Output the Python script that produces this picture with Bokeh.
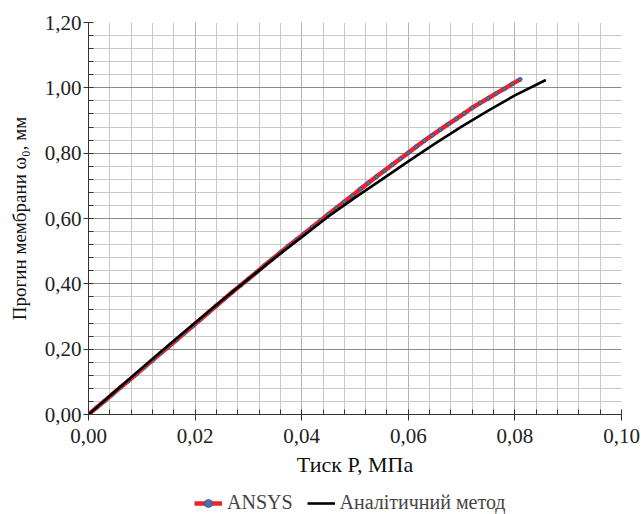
from bokeh.plotting import figure
from bokeh.layouts import column
from bokeh.models import FixedTicker, CustomJSTickFormatter, Legend, LegendItem, Range1d
from bokeh.embed import file_html
from bokeh.resources import INLINE

# ANSYS results (pressure, MPa ; deflection, mm)
p_ansys = [0.0000, 0.0015, 0.0030, 0.0045, 0.0060, 0.0075, 0.0090, 0.0105, 0.0120, 0.0135,
           0.0150, 0.0165, 0.0180, 0.0195, 0.0210, 0.0225, 0.0240, 0.0255, 0.0270, 0.0285,
           0.0300, 0.0315, 0.0330, 0.0345, 0.0360, 0.0375, 0.0390, 0.0405, 0.0420, 0.0435,
           0.0450, 0.0465, 0.0480, 0.0495, 0.0510, 0.0525, 0.0540, 0.0555, 0.0570, 0.0585,
           0.0600, 0.0615, 0.0630, 0.0645, 0.0660, 0.0675, 0.0690, 0.0705, 0.0720, 0.0735,
           0.0750, 0.0765, 0.0780, 0.0795, 0.0810]
w_ansys = [0.000, 0.021, 0.041, 0.062, 0.083, 0.103, 0.124, 0.145, 0.166, 0.187,
           0.207, 0.228, 0.249, 0.270, 0.291, 0.312, 0.333, 0.354, 0.375, 0.395,
           0.415, 0.435, 0.456, 0.476, 0.496, 0.516, 0.535, 0.554, 0.574, 0.593,
           0.613, 0.632, 0.651, 0.670, 0.690, 0.709, 0.728, 0.746, 0.765, 0.783,
           0.801, 0.820, 0.838, 0.855, 0.872, 0.889, 0.905, 0.922, 0.939, 0.954,
           0.968, 0.983, 0.997, 1.012, 1.026]

# Analytical method
p_anal = [0.0, 0.005, 0.010, 0.015, 0.020, 0.025, 0.030, 0.035, 0.040, 0.045,
          0.050, 0.055, 0.060, 0.065, 0.070, 0.075, 0.080, 0.0858]
w_anal = [0.0, 0.071, 0.142, 0.212, 0.281, 0.349, 0.415, 0.480, 0.543, 0.606,
          0.664, 0.719, 0.775, 0.829, 0.881, 0.930, 0.977, 1.024]

x_ticks = [0.0, 0.02, 0.04, 0.06, 0.08, 0.10]
y_ticks = [0.0, 0.2, 0.4, 0.6, 0.8, 1.0, 1.2]
x_minor = [round(i * 0.004, 4) for i in range(26)]
y_minor = [round(i * 0.04, 4) for i in range(31)]

series_names = ["ANSYS", "Аналітичний метод"]

FONT = "Liberation Serif"
RED = "#ee2229"
BLUE = "#4a72b0"

p = figure(width=641, height=480, output_backend="svg", toolbar_location=None,
           x_range=Range1d(0, 0.1), y_range=Range1d(0, 1.2),
           min_border_left=88, min_border_right=20, min_border_top=22, min_border_bottom=66)
p.outline_line_color = None
p.background_fill_color = "white"
p.border_fill_color = "white"

fmt = CustomJSTickFormatter(code="return tick.toFixed(2).replace('.', ',');")

for ax, ticks, minor in ((p.xaxis[0], x_ticks, x_minor), (p.yaxis[0], y_ticks, y_minor)):
    ax.ticker = FixedTicker(ticks=ticks, minor_ticks=minor)
    ax.formatter = fmt
    ax.major_label_text_font = FONT
    ax.major_label_text_font_size = "21px"
    ax.major_label_text_color = "#222222"
    ax.axis_label_text_font = FONT
    ax.axis_label_text_font_style = "normal"
    ax.axis_label_text_color = "#111111"
    ax.axis_line_color = "#333333"
    ax.major_tick_line_color = "#333333"
    ax.minor_tick_line_color = "#333333"
    ax.minor_tick_out = 0
    ax.minor_tick_in = 5

p.xaxis.axis_label = "Тиск Р, МПа"
p.yaxis.axis_label = "Прогин мембрани ω₀, мм"
p.xaxis.axis_label_text_font_size = "22px"
p.yaxis.axis_label_text_font_size = "19px"
p.xaxis.major_tick_in = 4
p.xaxis.major_tick_out = 6
p.yaxis.major_tick_in = 4
p.yaxis.major_tick_out = 5
p.xaxis.major_label_standoff = 8
p.xaxis.axis_label_standoff = 6
p.yaxis.major_label_standoff = 2
p.yaxis.axis_label_standoff = 12

for g in (p.xgrid[0], p.ygrid[0]):
    g.minor_grid_line_color = "#c8c8c8"
    g.minor_grid_line_width = 1
p.xgrid.grid_line_color = "#b0b0b0"
p.ygrid.grid_line_color = "#8a8a8a"

p.line(p_ansys, w_ansys, line_color=RED, line_width=4.5)
p.scatter(p_ansys, w_ansys, size=4, fill_color=BLUE, line_color="#2a4a7a", line_width=0.6)
p.line(p_anal, w_anal, line_color="#000000", line_width=2.6)

# legend strip below the chart (its frame is aligned with the chart's frame)
lg = figure(width=641, height=34, output_backend="svg", toolbar_location=None,
            x_range=Range1d(0, 1), y_range=Range1d(0, 1),
            min_border_left=0, min_border_right=0, min_border_top=0, min_border_bottom=0)
lg.axis.visible = False
lg.grid.visible = False
lg.outline_line_color = None
l_red = lg.line([-5, -4], [-5, -4], line_color=RED, line_width=4.5)
l_dot = lg.scatter([-4.5], [-4.5], size=4, fill_color=BLUE, line_color="#2a4a7a", line_width=0.6)
l_blk = lg.line([-5, -4], [-5, -4], line_color="#000000", line_width=2.6)
legend = Legend(items=[LegendItem(label=series_names[0], renderers=[l_red, l_dot]),
                       LegendItem(label=series_names[1], renderers=[l_blk])],
                orientation="horizontal", location=(106, 0),
                label_text_font=FONT, label_text_font_size="20px",
                label_standoff=5, glyph_width=28, glyph_height=20, spacing=14,
                padding=0, margin=0,
                border_line_color=None, background_fill_alpha=0)
lg.add_layout(legend, "center")

open("out.html", "w").write(file_html(column(p, lg, spacing=0), INLINE))
